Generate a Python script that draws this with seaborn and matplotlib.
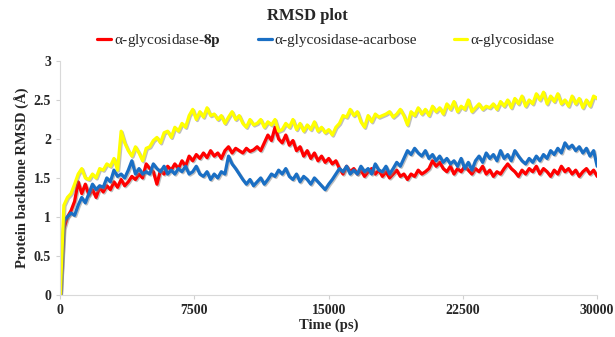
import matplotlib
matplotlib.use("Agg")
import matplotlib.pyplot as plt
import matplotlib.patheffects as pe
from matplotlib.ticker import FuncFormatter
import numpy as np
import pandas as pd
import seaborn as sns

# time axis (ps), one sample every 200 ps
time_ps = np.arange(0, 30001, 200)

rmsd_8p = [
    0.0, 0.85, 1.0, 1.08, 1.2, 1.45, 1.3, 1.42, 1.28, 1.35,
    1.25, 1.38, 1.32, 1.4, 1.35, 1.45, 1.38, 1.48, 1.4, 1.45,
    1.52, 1.48, 1.55, 1.5, 1.68, 1.62, 1.58, 1.42, 1.6, 1.55,
    1.65, 1.6, 1.68, 1.62, 1.72, 1.65, 1.78, 1.72, 1.8, 1.75,
    1.82, 1.76, 1.85, 1.78, 1.82, 1.75, 1.85, 1.9, 1.82, 1.88,
    1.85, 1.82, 1.88, 1.84, 1.86, 1.9, 1.85, 1.95, 2.05, 1.98,
    2.15, 2.0, 1.95, 2.05, 1.92, 1.98, 1.85, 1.9, 1.78, 1.85,
    1.75, 1.82, 1.72, 1.78, 1.7, 1.75, 1.68, 1.72, 1.62, 1.55,
    1.65, 1.58, 1.62, 1.55, 1.6, 1.52, 1.58, 1.62, 1.55, 1.6,
    1.52, 1.58, 1.5, 1.55, 1.6, 1.52, 1.55, 1.48, 1.55, 1.52,
    1.6, 1.55, 1.58, 1.62, 1.72, 1.65, 1.7, 1.62, 1.58, 1.65,
    1.55, 1.62, 1.58, 1.65, 1.6, 1.55, 1.62, 1.58, 1.65, 1.55,
    1.6, 1.52, 1.58, 1.55, 1.62, 1.68, 1.62, 1.58, 1.52, 1.6,
    1.55, 1.62, 1.58, 1.65, 1.55, 1.62, 1.58, 1.52, 1.6, 1.55,
    1.65, 1.58, 1.62, 1.55, 1.6, 1.52, 1.58, 1.62, 1.55, 1.6,
    1.52,
]

rmsd_acarbose = [
    0.0, 0.95, 1.0, 1.05, 1.02, 1.15, 1.25, 1.18, 1.3, 1.42,
    1.35, 1.4, 1.38, 1.5, 1.45, 1.6, 1.52, 1.55, 1.5, 1.6,
    1.72, 1.55, 1.62, 1.55, 1.58, 1.55, 1.68, 1.62, 1.58, 1.65,
    1.55, 1.6, 1.55, 1.62, 1.58, 1.65, 1.55, 1.58, 1.65, 1.55,
    1.52, 1.58, 1.48, 1.55, 1.5, 1.58, 1.55, 1.78, 1.68, 1.62,
    1.55, 1.48, 1.42, 1.48, 1.4, 1.45, 1.5, 1.42, 1.48, 1.55,
    1.52, 1.6, 1.55, 1.62, 1.52, 1.48, 1.55, 1.45, 1.52, 1.48,
    1.42, 1.5, 1.45, 1.4, 1.35, 1.42, 1.48, 1.55, 1.62, 1.58,
    1.65, 1.55, 1.6, 1.55, 1.65, 1.58, 1.62, 1.55, 1.68, 1.6,
    1.58, 1.65, 1.55, 1.62, 1.7, 1.65, 1.75, 1.85, 1.8, 1.88,
    1.82, 1.78, 1.85, 1.75, 1.8, 1.72, 1.78, 1.7, 1.75, 1.68,
    1.72, 1.65, 1.75, 1.62, 1.7, 1.6, 1.72, 1.78, 1.7, 1.82,
    1.75, 1.8, 1.72, 1.85, 1.75, 1.8, 1.72, 1.85, 1.78, 1.72,
    1.68, 1.75, 1.7, 1.78, 1.72, 1.8, 1.75, 1.85, 1.8, 1.88,
    1.82, 1.95, 1.88, 1.92, 1.85, 1.9, 1.82, 1.88, 1.78, 1.85,
    1.65,
]

rmsd_apo = [
    0.0, 1.15, 1.25, 1.3, 1.42, 1.55, 1.62, 1.5, 1.48, 1.55,
    1.5, 1.62, 1.6, 1.68, 1.65, 1.75, 1.6, 2.1, 1.95, 1.85,
    1.78, 1.9, 1.82, 1.72, 1.88, 1.9, 1.98, 2.02, 1.95, 2.08,
    2.1, 2.02, 2.15, 2.1, 2.2, 2.15, 2.3, 2.38, 2.25, 2.35,
    2.28, 2.4, 2.3, 2.32, 2.25, 2.3, 2.2, 2.28, 2.35, 2.25,
    2.3, 2.2, 2.15, 2.25, 2.18, 2.2, 2.25, 2.15, 2.22, 2.18,
    2.25, 2.1, 2.12, 2.2, 2.15, 2.25, 2.12, 2.2, 2.1, 2.18,
    2.12, 2.22, 2.1, 2.15, 2.08, 2.12, 2.05, 2.15, 2.2, 2.3,
    2.28, 2.38, 2.3, 2.35, 2.22, 2.15, 2.3, 2.22, 2.32, 2.28,
    2.3, 2.32, 2.35, 2.28, 2.32, 2.38, 2.3, 2.18, 2.35, 2.3,
    2.4, 2.32, 2.38, 2.3, 2.42, 2.35, 2.4, 2.32, 2.45, 2.38,
    2.48, 2.35, 2.42, 2.38, 2.5, 2.35, 2.4, 2.45, 2.38, 2.42,
    2.4, 2.45, 2.38, 2.48, 2.42, 2.5, 2.4, 2.52, 2.45, 2.55,
    2.42, 2.5, 2.45, 2.58, 2.5, 2.6, 2.45, 2.55, 2.48, 2.58,
    2.45, 2.5, 2.42, 2.55, 2.45, 2.52, 2.4, 2.5, 2.42, 2.55,
    2.52,
]

series_names = [
    r"α-glycosidase-$\mathbf{8p}$",
    "α-glycosidase-acarbose",
    "α-glycosidase",
]
series_colors = ["#ff0000", "#1a6fc4", "#ffff00"]

df = pd.concat([
    pd.DataFrame({"time": time_ps, "rmsd": vals, "system": name})
    for name, vals in zip(series_names, [rmsd_8p, rmsd_acarbose, rmsd_apo])
])

sns.set_style("white")
plt.rcParams["font.family"] = ["Liberation Serif", "DejaVu Serif"]
plt.rcParams["mathtext.fontset"] = "stix"

fig = plt.figure(figsize=(6.15, 3.37), dpi=100)
ax = fig.add_axes([0.098, 0.125, 0.873, 0.694])

sns.lineplot(
    data=df, x="time", y="rmsd", hue="system",
    hue_order=series_names, palette=series_colors,
    linewidth=2.3, ax=ax, legend=False,
)
for line in ax.get_lines():
    line.set_path_effects([
        pe.SimpleLineShadow(offset=(0.8, -0.8), shadow_color="gray", alpha=0.5),
        pe.Normal(),
    ])

ax.set_xlim(0, 30000)
ax.set_ylim(0, 3)
ax.set_xticks([0, 7500, 15000, 22500, 30000])
ax.set_yticks(np.arange(0, 3.01, 0.5))
ax.yaxis.set_major_formatter(FuncFormatter(lambda v, p: f"{v:g}"))
ax.tick_params(axis="both", labelsize=10, length=3, color="#d0d0d0",
               direction="out", bottom=True, left=True)
for lab in ax.get_xticklabels() + ax.get_yticklabels():
    lab.set_fontweight("bold")
sns.despine(ax=ax)
for side in ["left", "bottom"]:
    ax.spines[side].set_color("#d9d9d9")
    ax.spines[side].set_linewidth(0.8)

ax.set_xlabel("Time (ps)", fontsize=10.5, fontweight="bold", labelpad=1)
ax.set_ylabel("Protein backbone RMSD (Å)", fontsize=10.5, fontweight="bold",
              labelpad=3)
fig.suptitle("RMSD plot", fontsize=12, fontweight="bold", y=0.975)

handles = [plt.Line2D([], [], color=c, linewidth=2.3) for c in series_colors]
fig.legend(handles, series_names, loc="center", bbox_to_anchor=(0.53, 0.88),
           ncol=3, frameon=False, fontsize=11, handlelength=0.9,
           handletextpad=0.2, columnspacing=2.4)

fig.savefig("out.png", dpi=100)
